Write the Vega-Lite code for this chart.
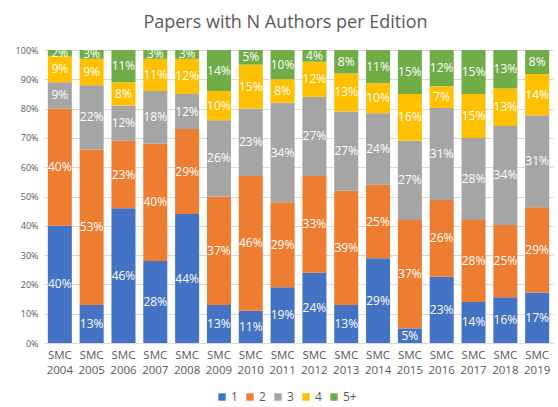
{
  "$schema": "https://vega.github.io/schema/vega-lite/v6.json",
  "width": 509,
  "height": 293,
  "autosize": {"type": "none"},
  "padding": {"left": 44, "top": 50, "right": 5, "bottom": 64},
  "background": "white",
  "title": {
    "text": "Papers with N Authors per Edition",
    "fontSize": 18,
    "font": "Open Sans",
    "fontWeight": "normal",
    "color": "#595959",
    "anchor": "middle",
    "dx": -13,
    "offset": 14
  },
  "data": {
    "values": [
      {"e":"SMC 2004","a":"1","v":0.40},{"e":"SMC 2004","a":"2","v":0.40},{"e":"SMC 2004","a":"3","v":0.09},{"e":"SMC 2004","a":"4","v":0.09},{"e":"SMC 2004","a":"5+","v":0.02},
      {"e":"SMC 2005","a":"1","v":0.13},{"e":"SMC 2005","a":"2","v":0.53},{"e":"SMC 2005","a":"3","v":0.22},{"e":"SMC 2005","a":"4","v":0.09},{"e":"SMC 2005","a":"5+","v":0.03},
      {"e":"SMC 2006","a":"1","v":0.46},{"e":"SMC 2006","a":"2","v":0.23},{"e":"SMC 2006","a":"3","v":0.12},{"e":"SMC 2006","a":"4","v":0.08},{"e":"SMC 2006","a":"5+","v":0.11},
      {"e":"SMC 2007","a":"1","v":0.28},{"e":"SMC 2007","a":"2","v":0.40},{"e":"SMC 2007","a":"3","v":0.18},{"e":"SMC 2007","a":"4","v":0.11},{"e":"SMC 2007","a":"5+","v":0.03},
      {"e":"SMC 2008","a":"1","v":0.44},{"e":"SMC 2008","a":"2","v":0.29},{"e":"SMC 2008","a":"3","v":0.12},{"e":"SMC 2008","a":"4","v":0.12},{"e":"SMC 2008","a":"5+","v":0.03},
      {"e":"SMC 2009","a":"1","v":0.13},{"e":"SMC 2009","a":"2","v":0.37},{"e":"SMC 2009","a":"3","v":0.26},{"e":"SMC 2009","a":"4","v":0.10},{"e":"SMC 2009","a":"5+","v":0.14},
      {"e":"SMC 2010","a":"1","v":0.11},{"e":"SMC 2010","a":"2","v":0.46},{"e":"SMC 2010","a":"3","v":0.23},{"e":"SMC 2010","a":"4","v":0.15},{"e":"SMC 2010","a":"5+","v":0.05},
      {"e":"SMC 2011","a":"1","v":0.19},{"e":"SMC 2011","a":"2","v":0.29},{"e":"SMC 2011","a":"3","v":0.34},{"e":"SMC 2011","a":"4","v":0.08},{"e":"SMC 2011","a":"5+","v":0.10},
      {"e":"SMC 2012","a":"1","v":0.24},{"e":"SMC 2012","a":"2","v":0.33},{"e":"SMC 2012","a":"3","v":0.27},{"e":"SMC 2012","a":"4","v":0.12},{"e":"SMC 2012","a":"5+","v":0.04},
      {"e":"SMC 2013","a":"1","v":0.13},{"e":"SMC 2013","a":"2","v":0.39},{"e":"SMC 2013","a":"3","v":0.27},{"e":"SMC 2013","a":"4","v":0.13},{"e":"SMC 2013","a":"5+","v":0.08},
      {"e":"SMC 2014","a":"1","v":0.289},{"e":"SMC 2014","a":"2","v":0.251},{"e":"SMC 2014","a":"3","v":0.244},{"e":"SMC 2014","a":"4","v":0.103},{"e":"SMC 2014","a":"5+","v":0.113},
      {"e":"SMC 2015","a":"1","v":0.05},{"e":"SMC 2015","a":"2","v":0.37},{"e":"SMC 2015","a":"3","v":0.27},{"e":"SMC 2015","a":"4","v":0.16},{"e":"SMC 2015","a":"5+","v":0.15},
      {"e":"SMC 2016","a":"1","v":0.226},{"e":"SMC 2016","a":"2","v":0.262},{"e":"SMC 2016","a":"3","v":0.314},{"e":"SMC 2016","a":"4","v":0.074},{"e":"SMC 2016","a":"5+","v":0.124},
      {"e":"SMC 2017","a":"1","v":0.14},{"e":"SMC 2017","a":"2","v":0.28},{"e":"SMC 2017","a":"3","v":0.28},{"e":"SMC 2017","a":"4","v":0.15},{"e":"SMC 2017","a":"5+","v":0.15},
      {"e":"SMC 2018","a":"1","v":0.156},{"e":"SMC 2018","a":"2","v":0.247},{"e":"SMC 2018","a":"3","v":0.338},{"e":"SMC 2018","a":"4","v":0.128},{"e":"SMC 2018","a":"5+","v":0.131},
      {"e":"SMC 2019","a":"1","v":0.172},{"e":"SMC 2019","a":"2","v":0.291},{"e":"SMC 2019","a":"3","v":0.314},{"e":"SMC 2019","a":"4","v":0.141},{"e":"SMC 2019","a":"5+","v":0.082}
    ]
  },
  "encoding": {
    "x": {
      "field": "e",
      "type": "nominal",
      "title": null,
      "scale": {"paddingInner": 0.245, "paddingOuter": 0.12},
      "axis": {
        "labelAngle": 0,
        "labelExpr": "split(datum.label, ' ')",
        "labelFont": "Open Sans",
        "labelFontSize": 11.5,
        "labelColor": "#595959",
        "labelLineHeight": 15,
        "labelPadding": 6,
        "ticks": false,
        "domainColor": "#d9d9d9"
      }
    },
    "order": {"field": "a", "type": "nominal", "sort": "ascending"}
  },
  "layer": [
    {
      "mark": {"type": "bar"},
      "encoding": {
        "y": {
          "field": "v",
          "type": "quantitative",
          "stack": "normalize",
          "title": null,
          "scale": {"domain": [0, 1]},
          "axis": {
            "format": ".0%",
            "values": [0,0.1,0.2,0.3,0.4,0.5,0.6,0.7,0.8,0.9,1],
            "labelFont": "Open Sans",
            "labelFontSize": 9,
            "labelColor": "#595959",
            "labelPadding": 6,
            "labelOverlap": false,
            "ticks": false,
            "domain": false,
            "gridColor": "#d9d9d9"
          }
        },
        "color": {
          "field": "a",
          "type": "nominal",
          "title": null,
          "scale": {
            "domain": ["1", "2", "3", "4", "5+"],
            "range": ["#4472C4", "#ED7D31", "#A5A5A5", "#FFC000", "#70AD47"]
          },
          "legend": {
            "orient": "none",
            "legendX": 172,
            "legendY": 341,
            "direction": "horizontal",
            "symbolType": "square",
            "symbolSize": 55,
            "symbolStrokeWidth": 0,
            "labelFont": "Open Sans",
            "labelFontSize": 12,
            "labelColor": "#595959",
            "labelOffset": 3,
            "columnPadding": 6
          }
        }
      }
    },
    {
      "mark": {"type": "text", "color": "white", "font": "Open Sans", "fontSize": 12},
      "encoding": {
        "y": {
          "field": "v",
          "type": "quantitative",
          "stack": "normalize",
          "bandPosition": 0.5,
          "title": null,
          "scale": {"domain": [0, 1]},
          "axis": {
            "format": ".0%",
            "values": [0,0.1,0.2,0.3,0.4,0.5,0.6,0.7,0.8,0.9,1],
            "labelFont": "Open Sans",
            "labelFontSize": 9,
            "labelColor": "#595959",
            "labelPadding": 6,
            "labelOverlap": false,
            "ticks": false,
            "domain": false,
            "gridColor": "#d9d9d9"
          }
        },
        "detail": {"field": "a", "type": "nominal"},
        "text": {"field": "v", "type": "quantitative", "format": ".0%"}
      }
    }
  ],
  "config": {
    "view": {"stroke": null}
  }
}
